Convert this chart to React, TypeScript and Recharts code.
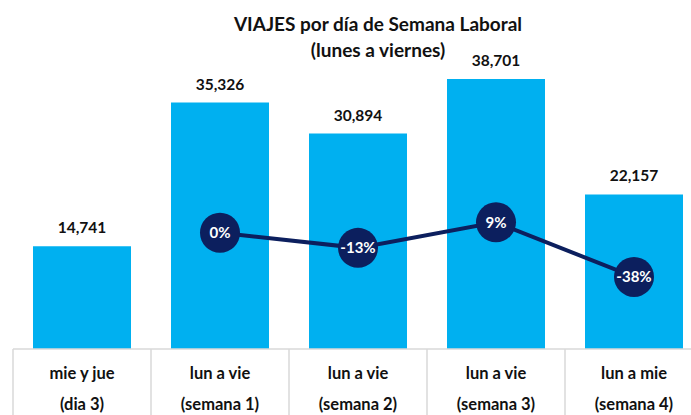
import { ComposedChart, Bar, Line, XAxis, YAxis, LabelList } from 'recharts'

const CATEGORIES = ['mie y jue', 'lun a vie', 'lun a vie', 'lun a vie', 'lun a mie']
const SUBLABELS = ['(dia 3)', '(semana 1)', '(semana 2)', '(semana 3)', '(semana 4)']
const TRIPS = [14741, 35326, 30894, 38701, 22157]
const CHANGE = [null, 0, -0.13, 0.09, -0.38]

const BAR_COLOR = '#00B0F0'
const NAVY = '#0C1F5E'
const FONT = 'Lato, "Open Sans", sans-serif'

const data = CATEGORIES.map((c, i) => ({
  cat: c,
  sub: SUBLABELS[i],
  key: `${c}-${i}`,
  trips: TRIPS[i],
  change: CHANGE[i],
}))

const HALF_BAND = 69

function CategoryTick(props: any) {
  const { x, y, payload, index } = props
  const idx = payload.index ?? index
  const item = data[idx]
  const last = idx === data.length - 1
  return (
    <g>
      <line x1={x - HALF_BAND} x2={x - HALF_BAND} y1={y - 8} y2={y + 70} stroke="#d9d9d9" strokeWidth={1.5} />
      {last && <line x1={x + HALF_BAND} x2={x + HALF_BAND} y1={y - 8} y2={y + 70} stroke="#d9d9d9" strokeWidth={1.5} />}
      <text x={x} y={y + 22} textAnchor="middle" fontFamily={FONT} fontWeight={700} fontSize={16.5} fill="#111">
        {item.cat}
      </text>
      <text x={x} y={y + 53} textAnchor="middle" fontFamily={FONT} fontWeight={700} fontSize={16.5} fill="#111">
        {item.sub}
      </text>
    </g>
  )
}

function ChangeDot(props: any) {
  const { cx, cy, payload } = props
  if (payload.change == null || cx == null || cy == null) return null
  return (
    <g>
      <circle cx={cx} cy={cy} r={20} fill={NAVY} />
      <text x={cx} y={cy + 5.5} textAnchor="middle" fontFamily={FONT} fontWeight={700} fontSize={15} fill="#fff">
        {Math.round(payload.change * 100)}%
      </text>
    </g>
  )
}

export default function App() {
  return (
    <div style={{ position: 'absolute', left: 0, top: 0, width: 691, height: 415, overflow: 'hidden', background: '#fff' }}>
      <div
        style={{
          position: 'absolute',
          left: 178,
          width: 400,
          top: 11,
          textAlign: 'center',
          fontFamily: FONT,
          fontWeight: 700,
          fontSize: 19,
          lineHeight: '26px',
          color: '#111',
          zIndex: 1,
        }}
      >
        VIAJES por día de Semana Laboral
        <br />
        (lunes a viernes)
      </div>
      <ComposedChart width={705} height={415} data={data} margin={{ top: 70, right: 2, bottom: 0, left: 13 }}>
        <XAxis
          dataKey="key"
          xAxisId="x"
          height={66}
          tick={<CategoryTick />}
          tickLine={false}
          axisLine={{ stroke: '#d9d9d9', strokeWidth: 1.5 }}
          interval={0}
        />
        <YAxis yAxisId="left" hide domain={[0, 40000]} />
        <YAxis yAxisId="right" hide domain={[-1, 1.4]} />
        <Bar xAxisId="x" yAxisId="left" dataKey="trips" fill={BAR_COLOR} barSize={98} isAnimationActive={false}>
          <LabelList
            dataKey="trips"
            position="top"
            offset={13}
            formatter={(v: any) => Number(v).toLocaleString('en-US')}
            style={{ fontFamily: FONT, fontWeight: 700, fontSize: 15.5, fill: '#111' }}
          />
        </Bar>
        <Line
          xAxisId="x"
          yAxisId="right"
          dataKey="change"
          stroke={NAVY}
          strokeWidth={4}
          dot={<ChangeDot />}
          activeDot={false}
          connectNulls={false}
          isAnimationActive={false}
        />
      </ComposedChart>
    </div>
  )
}
